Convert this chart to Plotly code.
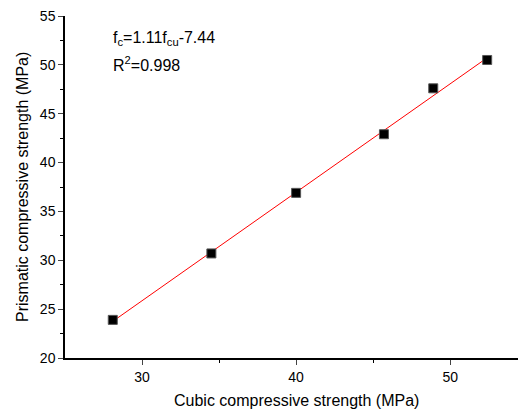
import plotly.graph_objects as go

cubic = [28.1, 34.5, 40.0, 45.7, 48.9, 52.4]
prismatic = [23.9, 30.7, 36.9, 42.9, 47.6, 50.5]
slope = 1.11
intercept = -7.44

fit_x = [min(cubic), max(cubic)]
fit_y = [slope * v + intercept for v in fit_x]

L, R, T, B = 65, 0, 16, 55
W, H = 518, 413
pw, ph = W - L - R, H - T - B


def px2paper(px, py):
    return (px - L) / pw, 1 - (py - T) / ph


fig = go.Figure()
fig.add_trace(go.Scatter(x=fit_x, y=fit_y, mode="lines",
                         line=dict(color="#ff0000", width=1), showlegend=False))
fig.add_trace(go.Scatter(x=cubic, y=prismatic, mode="markers",
                         marker=dict(symbol="square", size=9, color="black",
                                     line=dict(color="#555", width=1)),
                         showlegend=False))

font = "Liberation Sans, Arial, sans-serif"
anns = []
for text, (px, py), size, extra in [
    ("f<sub>c</sub>=1.11f<sub>cu</sub>-7.44", (111, 38), 16, dict(xanchor="left")),
    ("R<sup>2</sup>=0.998", (111, 64), 16, dict(xanchor="left")),
    ("Cubic compressive strength (MPa)", (296, 400), 16, dict(xanchor="center")),
    ("Prismatic compressive strength (MPa)", (22, 187), 16, dict(xanchor="center", textangle=-90)),
]:
    x, y = px2paper(px, py)
    anns.append(dict(text=text, x=x, y=y, xref="paper", yref="paper", showarrow=False,
                     yanchor="middle", font=dict(size=size), **extra))

fig.update_layout(
    width=W, height=H,
    margin=dict(l=L, r=R, t=T, b=B, autoexpand=False),
    paper_bgcolor="white", plot_bgcolor="white",
    font=dict(family=font, color="black", size=14),
    xaxis=dict(range=[25, 54.4], tickvals=[30, 40, 50], ticks="outside", ticklen=5,
               showline=True, linecolor="black", linewidth=1.5, showgrid=False, zeroline=False,
               automargin=False,
               minor=dict(tickvals=[35, 45], ticks="outside", ticklen=3, tickcolor="black")),
    yaxis=dict(range=[20, 55], tickvals=[20, 25, 30, 35, 40, 45, 50, 55], ticks="outside", ticklen=5,
               showline=True, linecolor="black", linewidth=1.5, showgrid=False, zeroline=False,
               automargin=False,
               minor=dict(tickvals=[22.5, 27.5, 32.5, 37.5, 42.5, 47.5, 52.5], ticks="outside",
                          ticklen=3, tickcolor="black")),
    annotations=anns,
)

fig.write_html("out.html", config={"displayModeBar": False},
               post_script="document.body.style.margin='0';")
